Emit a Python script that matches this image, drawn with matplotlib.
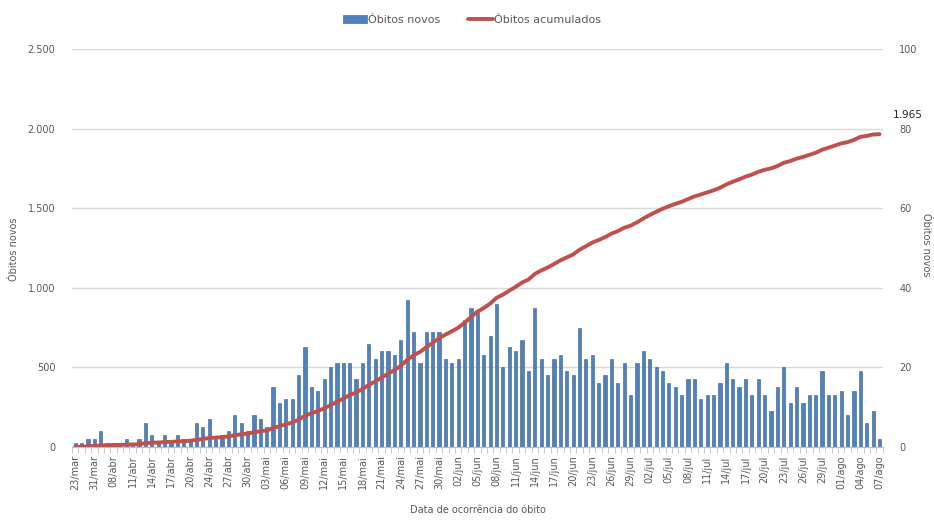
import numpy as np
import matplotlib
matplotlib.use("Agg")
import matplotlib.pyplot as plt
from matplotlib.ticker import FuncFormatter, MultipleLocator

plt.rcParams['font.family'] = ['DejaVu Sans']

# Daily deaths (one value per category on the x axis)
obitos_novos = [1, 1, 2, 2, 4, 1, 1, 1, 2, 1, 2, 6, 3, 1, 3, 1, 3, 2, 2, 6, 5, 7, 2, 3, 4, 8, 6, 4, 8, 7, 5, 15, 11,
                12, 12, 18, 25, 15, 14, 17, 20, 21, 21, 21, 17, 21, 26, 22, 24, 24, 23, 27, 37, 29, 21, 29, 29, 29, 22, 21, 22, 32, 35, 34,
                23, 28, 36, 20, 25, 24, 27, 19, 35, 22, 18, 22, 23, 19, 18, 30, 22, 23, 16, 18, 22, 16, 21, 13, 21, 24, 22, 20, 19, 16, 15,
                13, 17, 17, 12, 13, 13, 16, 21, 17, 15, 17, 13, 17, 13, 9, 15, 20, 11, 15, 11, 13, 13, 19, 13, 13, 14, 8, 14, 19, 6, 9, 2]

# Cumulative deaths
obitos_acumulados = np.cumsum(obitos_novos)

# Tick labels, shown every third category
rotulos = ["23/mar", "31/mar", "08/abr", "11/abr", "14/abr", "17/abr", "20/abr", "24/abr", "27/abr", "30/abr",
           "03/mai", "06/mai", "09/mai", "12/mai", "15/mai", "18/mai", "21/mai", "24/mai", "27/mai", "30/mai",
           "02/jun", "05/jun", "08/jun", "11/jun", "14/jun", "17/jun", "20/jun", "23/jun", "26/jun", "29/jun",
           "02/jul", "05/jul", "08/jul", "11/jul", "14/jul", "17/jul", "20/jul", "23/jul", "26/jul", "29/jul",
           "01/ago", "04/ago", "07/ago"]

txt = '#595959'
x = np.arange(len(obitos_novos))

fig = plt.figure(figsize=(9.34, 5.2), dpi=100)
ax = fig.add_axes([0.0771, 0.1404, 0.868, 0.7654])
ax2 = ax.twinx()

# bars on the right-hand scale
ax.bar(x, obitos_novos, width=0.5, color='#4F81BD', edgecolor='#385D8A', linewidth=0.4,
       label='Óbitos novos', zorder=3)
ax.set_ylim(0, 100)
ax.yaxis.set_major_locator(MultipleLocator(20))
ax.yaxis.tick_right()
ax.set_axisbelow(True)
ax.grid(axis='y', color='#d9d9d9', linewidth=1)

# cumulative line on the left-hand scale
ax2.plot(x, obitos_acumulados, color='#C0504D', linewidth=2.8, label='Óbitos acumulados',
         solid_capstyle='round')
ax2.set_ylim(0, 2500)
ax2.yaxis.set_major_locator(MultipleLocator(500))
ax2.yaxis.tick_left()
ax2.yaxis.set_major_formatter(FuncFormatter(lambda v, p: f"{int(v):,}".replace(",", ".")))

ax.set_xlim(-0.5, len(x) - 0.5)
ax.set_xticks(x[::3])
ax.set_xticklabels(rotulos, rotation=90, fontsize=7, color=txt)
ax.set_xticks(np.arange(-0.5, len(x), 1), minor=True)
ax.tick_params(axis='x', which='major', length=0, pad=6)
ax.tick_params(axis='x', which='minor', length=4, color='#bfbfbf')
ax.tick_params(axis='y', length=0, labelsize=7, labelcolor=txt, pad=12)
ax2.tick_params(axis='y', length=0, labelsize=7, labelcolor=txt, pad=12)

for a in (ax, ax2):
    for s in ('top', 'left', 'right'):
        a.spines[s].set_visible(False)
    a.spines['bottom'].set_color('#bfbfbf')

ax2.annotate(f"{obitos_acumulados[-1]:,}".replace(",", "."), xy=(x[-1], obitos_acumulados[-1]),
             xytext=(20, 14), textcoords='offset points', ha='center', va='center',
             fontsize=7.5, color='#262626')

fig.text(0.015, 0.52, 'Óbitos novos', rotation=90, ha='center', va='center', fontsize=7, color=txt)
fig.text(0.991, 0.53, 'Óbitos novos', rotation=270, ha='center', va='center', fontsize=7, color=txt)
fig.text(0.512, 0.01, 'Data de ocorrência do óbito', ha='center', va='bottom', fontsize=7, color=txt)

h1, l1 = ax.get_legend_handles_labels()
h2, l2 = ax2.get_legend_handles_labels()
fig.legend(h1 + h2, l1 + l2, loc='center', bbox_to_anchor=(0.505, 0.962), ncol=2, frameon=False,
           fontsize=8, labelcolor=txt, handlelength=2.2, handletextpad=0.1, columnspacing=2.5)

fig.savefig('out.png', dpi=100)
